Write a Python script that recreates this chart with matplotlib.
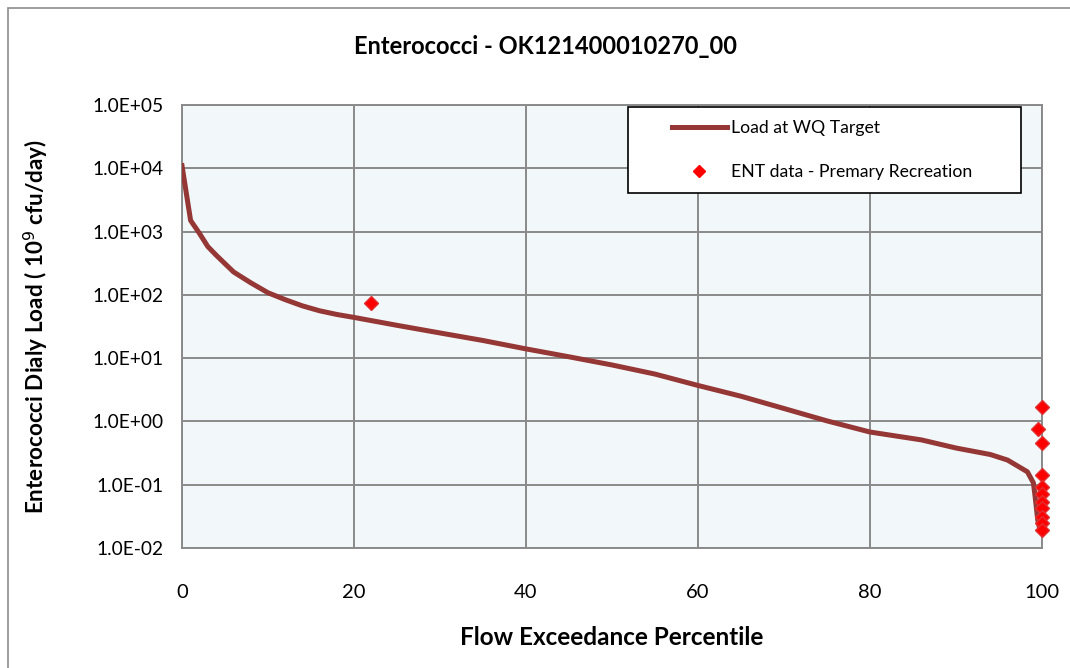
import numpy as np
import matplotlib.pyplot as plt
from matplotlib.lines import Line2D
from matplotlib.patches import Rectangle

# Load duration curve (flow exceedance %, 10^9 cfu/day)
load_pct = [0, 1, 2, 3, 4, 6, 8, 10, 12, 14, 16, 18, 20, 25, 30, 35, 40, 45,
            50, 55, 60, 65, 70, 75, 80, 86, 90, 94, 96, 98.3, 99, 99.2, 99.5,
            99.7]
load_val = [11000, 1500, 950, 580, 420, 230, 155, 108, 84, 67, 56, 49, 44, 33,
            25, 19, 14, 10.5, 7.8, 5.6, 3.7, 2.5, 1.6, 1.02, 0.68, 0.51, 0.38,
            0.30, 0.245, 0.16, 0.107, 0.065, 0.028, 0.021]

# ENT observations
ent_pct = [22, 99.5, 100, 100, 100, 100, 100, 100, 100, 100, 100, 100]
ent_val = [74, 0.76, 1.7, 0.46, 0.14, 0.093, 0.071, 0.054, 0.043, 0.031,
           0.025, 0.019]

ytick_exp = [-2, -1, 0, 1, 2, 3, 4, 5]
ytick_labels = ['1.0E-02', '1.0E-01', '1.0E+00', '1.0E+01', '1.0E+02',
                '1.0E+03', '1.0E+04', '1.0E+05']

LINE_COL = '#953735'
PT_COL = '#FF0000'
FONT = 'Lato'

fig = plt.figure(figsize=(10.7, 6.68), dpi=100)
fig.patches.append(Rectangle((8/1070, -0.01), 1.0, 1 - 8/668 + 0.01,
                             transform=fig.transFigure, fill=False,
                             edgecolor='#8c8c8c', linewidth=1.2))

ax = fig.add_axes([182/1070, 1 - 548/668, 860/1070, 443/668])
ax.set_facecolor('#F2F7FA')

ax.plot(load_pct, load_val, color=LINE_COL, linewidth=3.6, zorder=3,
        solid_joinstyle='round')
ax.plot(ent_pct, ent_val, linestyle='none', marker='D', markersize=7.5,
        color=PT_COL, markeredgecolor='#e03030', zorder=4, clip_on=False)

ax.set_yscale('log')
ax.set_ylim(1e-2, 1e5)
ax.set_xlim(0, 100)
ax.set_xticks([0, 20, 40, 60, 80, 100])
ax.set_yticks([10.0**k for k in ytick_exp])
ax.set_yticklabels(ytick_labels)
ax.minorticks_off()
ax.grid(True, color='#8a8a8a', linewidth=1.4)
ax.set_axisbelow(True)
for s in ax.spines.values():
    s.set_color('#8a8a8a')
    s.set_linewidth(1.4)
ax.tick_params(length=0)
ax.tick_params(axis='y', pad=13, labelsize=13.8)
ax.tick_params(axis='x', pad=26, labelsize=14.5)
for lab in ax.get_xticklabels() + ax.get_yticklabels():
    lab.set_fontfamily(FONT)

ax.set_xlabel('Flow Exceedance Percentile', fontsize=17.5, fontweight='bold',
              fontfamily=FONT, labelpad=18)
ax.set_ylabel('Enterococci Dialy Load ( 10$^9$ cfu/day)', fontsize=16.2,
              fontweight='bold', fontfamily=FONT, labelpad=30)
fig.text(545/1070, 1 - 47/668, 'Enterococci - OK121400010270_00',
         ha='center', va='center', fontsize=17, fontweight='bold',
         fontfamily=FONT)

# legend: frame drawn as a box, entries placed inside it
ax.add_patch(Rectangle((446/860, 355/443), 393/860, 86/443,
                       transform=ax.transAxes, facecolor='white',
                       edgecolor='black', linewidth=1.2, zorder=5))
handles = [Line2D([], [], color=LINE_COL, linewidth=3.6),
           Line2D([], [], linestyle='none', marker='D', markersize=6,
                  color=PT_COL)]
leg = ax.legend(handles, ['Load at WQ Target', 'ENT data - Premary Recreation'],
                loc='upper left', bbox_to_anchor=(490/860, 1 - 15/443),
                frameon=False, borderaxespad=0, borderpad=0,
                prop={'family': FONT, 'size': 12.7}, handlelength=3.1,
                labelspacing=1.6, handletextpad=0.25)
leg.set_zorder(6)

fig.savefig('out.png', dpi=100)
